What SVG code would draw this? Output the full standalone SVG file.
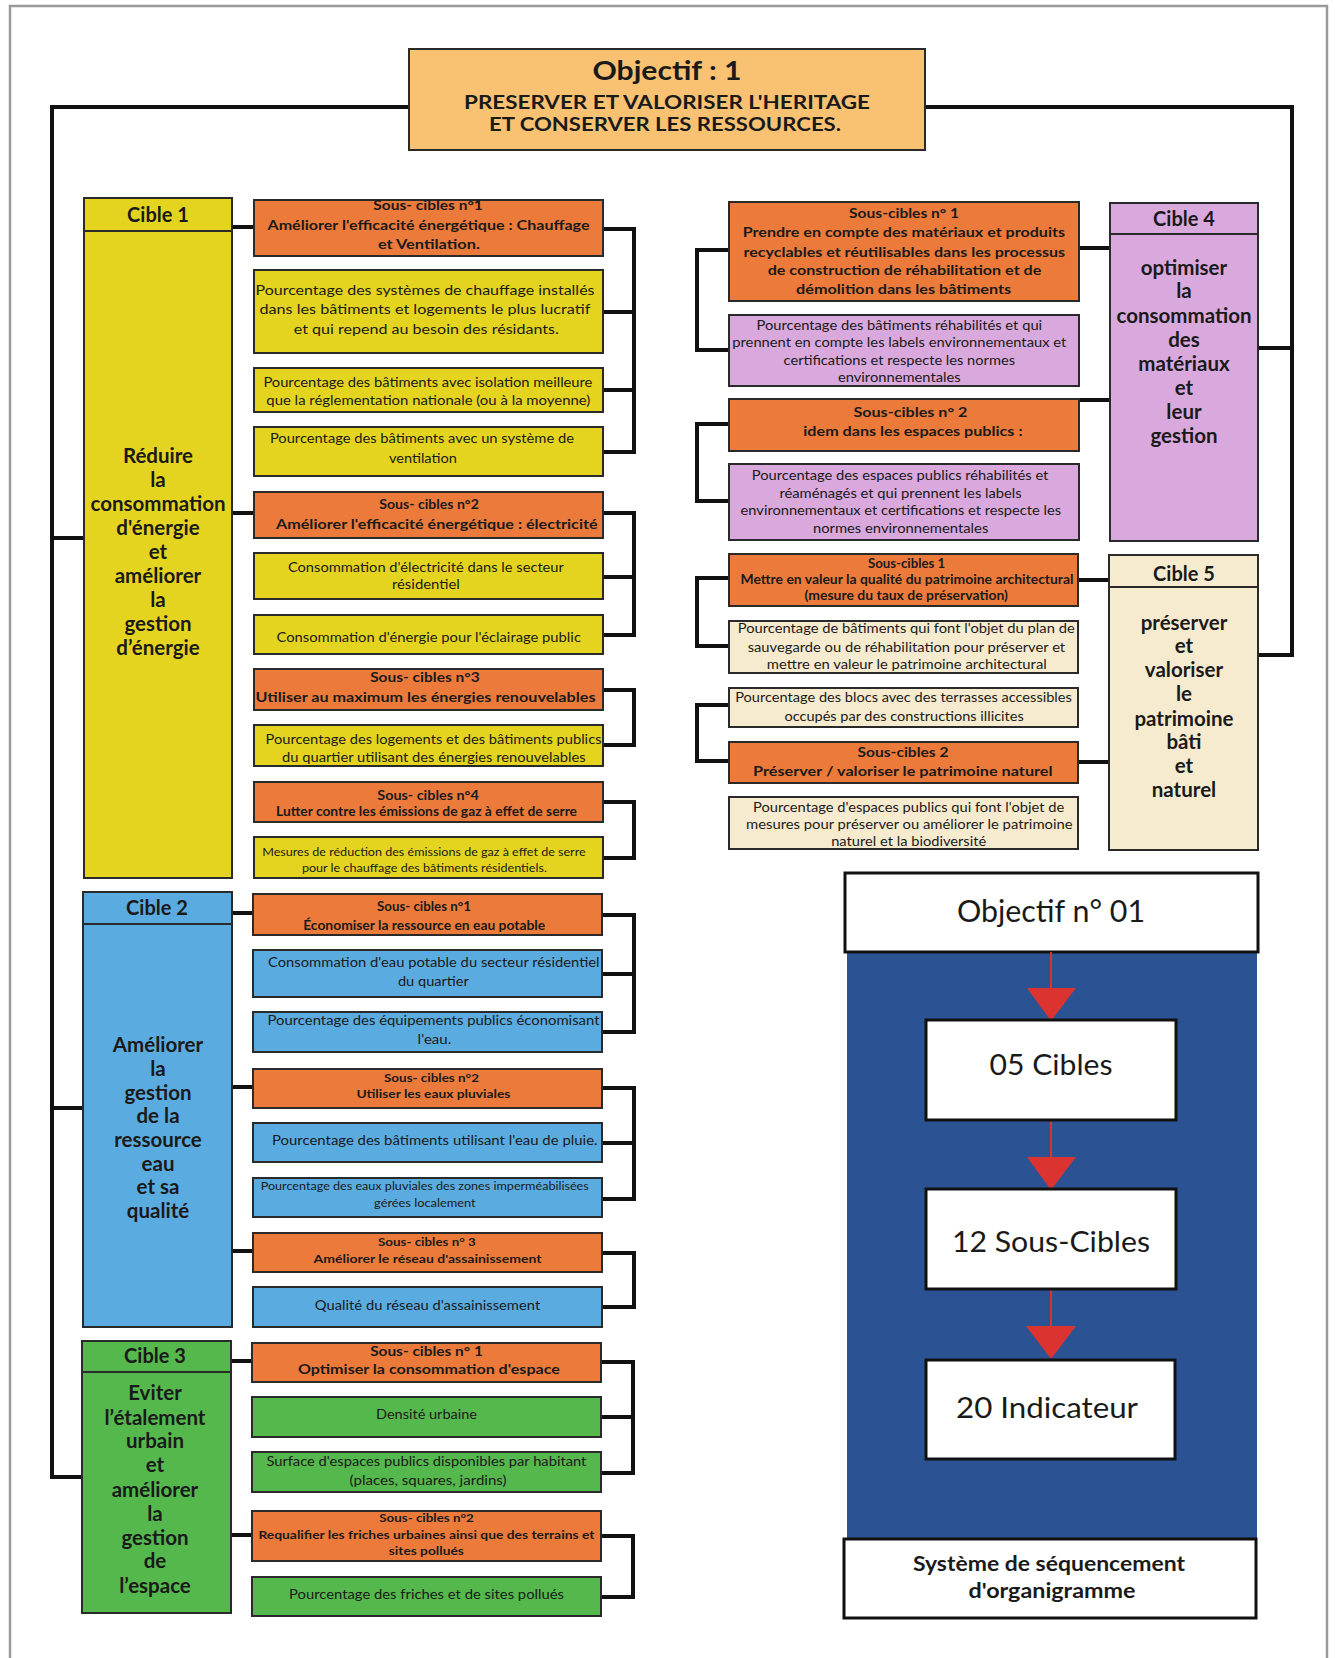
<svg xmlns="http://www.w3.org/2000/svg" width="1335" height="1658" viewBox="0 0 1335 1658">
<style>
text{font-family:Lato,"Liberation Sans",sans-serif;fill:#1a1a1a;text-anchor:middle}
.b{font-weight:bold}
.box{stroke:#2a2a2a;stroke-width:2}
.or{fill:#EC7A3A}.ye{fill:#E4D41F}.bl{fill:#5AACE0}.gr{fill:#55B84C}.pk{fill:#D9A8DC}.be{fill:#F6EBCF}.ti{fill:#F8C272}
.ct{font-size:20px;font-weight:bold}
.cb{font-size:20.5px;font-weight:bold}
.s11{font-size:11px}.s115{font-size:11.5px}.s12{font-size:12px}.s125{font-size:12.5px}.s13{font-size:13px}.s135{font-size:13.5px}.s14{font-size:14px}
.con{fill:none;stroke:#111;stroke-width:4}
.hl{stroke:#2a2a2a;stroke-width:2}
.lg{fill:#fff;stroke:#111;stroke-width:3}
.rd{fill:#DA3330}
</style>
<rect x="10" y="6" width="1317" height="1662" fill="#fff" stroke="#9a9a9a" stroke-width="2.5"/>

<g id="connectors">
<path class="con" d="M409,107 H52 V1477 H82 M52,538 H84 M52,1108 H83"/>
<path class="con" d="M925,107 H1292 V655 H1258 M1292,348 H1258"/>
<path class="con" d="M232,227 H254 M232,513 H254"/>
<path class="con" d="M603,229 H634 V452 H603 M634,312 H603 M634,390 H603"/>
<path class="con" d="M603,513 H634 V635 H603 M634,577 H603"/>
<path class="con" d="M603,690 H634 V745 H603"/>
<path class="con" d="M603,802 H634 V858 H603"/>
<path class="con" d="M232,913 H253 M232,1087 H253 M232,1251 H253"/>
<path class="con" d="M602,915 H634 V1032 H602 M634,974 H602"/>
<path class="con" d="M602,1088 H634 V1199 H602 M634,1143 H602"/>
<path class="con" d="M602,1253 H634 V1307 H602"/>
<path class="con" d="M231,1361 H252 M231,1535 H252"/>
<path class="con" d="M601,1362 H633 V1473 H601 M633,1417 H601"/>
<path class="con" d="M601,1536 H633 V1597 H601"/>
<path class="con" d="M1079,248 H1110 M1079,400 H1110"/>
<path class="con" d="M729,250 H697 V350 H729"/>
<path class="con" d="M729,424 H697 V501 H729"/>
<path class="con" d="M1078,580 H1109 M1078,762 H1109"/>
<path class="con" d="M729,578 H697 V646 H729"/>
<path class="con" d="M729,705 H697 V761 H729"/>
</g>

<g id="objectif">
<rect class="box ti" x="409" y="49" width="516" height="101"/>
<text class="b" x="667" y="80" font-size="27" textLength="149" lengthAdjust="spacingAndGlyphs">Objectif : 1</text>
<text class="b" x="667" y="109" font-size="18.5" textLength="406" lengthAdjust="spacingAndGlyphs">PRESERVER ET VALORISER L'HERITAGE</text>
<text class="b" x="665" y="130.5" font-size="18.5" textLength="352" lengthAdjust="spacingAndGlyphs">ET CONSERVER LES RESSOURCES.</text>
</g>

<!-- Cible 1 -->
<g id="cible1">
<rect class="box ye" x="84" y="198" width="148" height="680"/>
<line class="hl" x1="84" y1="231" x2="232" y2="231"/>
<text class="ct" x="158" y="222">Cible 1</text>
<text class="cb" x="158" y="462.5">Réduire</text>
<text class="cb" x="158" y="487">la</text>
<text class="cb" x="158" y="511">consommation</text>
<text class="cb" x="158" y="535">d'énergie</text>
<text class="cb" x="158" y="558.5">et</text>
<text class="cb" x="158" y="582.5">améliorer</text>
<text class="cb" x="158" y="607">la</text>
<text class="cb" x="158" y="631">gestion</text>
<text class="cb" x="158" y="655">d’énergie</text>
</g>
<g id="c1-sc1">
<rect class="box or" x="254" y="200" width="349" height="56"/>
<text class="b s13" x="428.1" y="209.5" textLength="109.5" lengthAdjust="spacingAndGlyphs">Sous- cibles n°1</text>
<text class="b s14" x="428.5" y="229.5" textLength="322" lengthAdjust="spacingAndGlyphs">Améliorer l'efficacité énergétique : Chauffage</text>
<text class="b s14" x="428.9" y="248.5" textLength="102" lengthAdjust="spacingAndGlyphs">et Ventilation.</text>
</g>
<g id="c1-i1">
<rect class="box ye" x="254" y="270" width="349" height="83"/>
<text class="s135" x="425" y="295" textLength="339" lengthAdjust="spacingAndGlyphs">Pourcentage des systèmes de chauffage installés</text>
<text class="s135" x="424.9" y="314" textLength="331" lengthAdjust="spacingAndGlyphs">dans les  bâtiments et logements le plus lucratif</text>
<text class="s135" x="426.3" y="334" textLength="265" lengthAdjust="spacingAndGlyphs">et qui repend au besoin des résidants.</text>
</g>
<g id="c1-i2">
<rect class="box ye" x="254" y="368" width="349" height="44"/>
<text class="s13" x="427.9" y="386.5" textLength="329" lengthAdjust="spacingAndGlyphs">Pourcentage des bâtiments avec isolation meilleure</text>
<text class="s13" x="428.3" y="404.5" textLength="324" lengthAdjust="spacingAndGlyphs">que la réglementation nationale (ou à la moyenne)</text>
</g>
<g id="c1-i3">
<rect class="box ye" x="254" y="427" width="349" height="49"/>
<text class="s13" x="421.9" y="443" textLength="304" lengthAdjust="spacingAndGlyphs">Pourcentage des bâtiments avec un système de</text>
<text class="s13" x="422.9" y="463" textLength="68" lengthAdjust="spacingAndGlyphs">ventilation</text>
</g>
<g id="c1-sc2">
<rect class="box or" x="254" y="492" width="349" height="46"/>
<text class="b s135" x="429.1" y="509" textLength="99.6" lengthAdjust="spacingAndGlyphs">Sous- cibles n°2</text>
<text class="b s135" x="436.8" y="528.5" textLength="321.5" lengthAdjust="spacingAndGlyphs">Améliorer l'efficacité énergétique : électricité</text>
</g>
<g id="c1-i4">
<rect class="box ye" x="254" y="553" width="349" height="46"/>
<text class="s13" x="425.9" y="571.5" textLength="276" lengthAdjust="spacingAndGlyphs">Consommation d'électricité dans le secteur</text>
<text class="s13" x="425.9" y="589" textLength="68" lengthAdjust="spacingAndGlyphs">résidentiel</text>
</g>
<g id="c1-i5">
<rect class="box ye" x="254" y="615" width="349" height="39"/>
<text class="s13" x="428.7" y="641.5" textLength="304.5" lengthAdjust="spacingAndGlyphs">Consommation d'énergie pour l'éclairage public</text>
</g>
<g id="c1-sc3">
<rect class="box or" x="254" y="669" width="349" height="41"/>
<text class="b s135" x="424.9" y="681.5" textLength="109.5" lengthAdjust="spacingAndGlyphs">Sous- cibles n°3</text>
<text class="b s135" x="425.5" y="701.5" textLength="340" lengthAdjust="spacingAndGlyphs">Utiliser au maximum les énergies renouvelables</text>
</g>
<g id="c1-i6">
<rect class="box ye" x="254" y="725" width="349" height="41"/>
<text class="s13" x="433.5" y="744" textLength="336" lengthAdjust="spacingAndGlyphs">Pourcentage des logements et des bâtiments publics</text>
<text class="s13" x="433.8" y="761.5" textLength="303.6" lengthAdjust="spacingAndGlyphs">du quartier utilisant des énergies renouvelables</text>
</g>
<g id="c1-sc4">
<rect class="box or" x="254" y="782" width="349" height="40"/>
<text class="b s125" x="428.1" y="799.5" textLength="101.6" lengthAdjust="spacingAndGlyphs">Sous- cibles n°4</text>
<text class="b s125" x="426.5" y="816" textLength="301" lengthAdjust="spacingAndGlyphs">Lutter contre les émissions de gaz à effet de serre</text>
</g>
<g id="c1-i7">
<rect class="box ye" x="254" y="837" width="349" height="41"/>
<text class="s12" x="423.9" y="856" textLength="323.4" lengthAdjust="spacingAndGlyphs">Mesures de réduction des émissions de gaz à effet de serre</text>
<text class="s12" x="424.4" y="871.5" textLength="245" lengthAdjust="spacingAndGlyphs">pour le chauffage des bâtiments résidentiels.</text>
</g>

<!-- Cible 2 -->
<g id="cible2">
<rect class="box bl" x="83" y="892" width="149" height="435"/>
<line class="hl" x1="83" y1="924" x2="232" y2="924"/>
<text class="ct" x="157" y="915">Cible 2</text>
<text class="cb" x="158" y="1051.5">Améliorer</text>
<text class="cb" x="158" y="1075.5">la</text>
<text class="cb" x="158" y="1099.5">gestion</text>
<text class="cb" x="158" y="1123">de la</text>
<text class="cb" x="158" y="1147">ressource</text>
<text class="cb" x="158" y="1170.5">eau</text>
<text class="cb" x="158" y="1194">et sa</text>
<text class="cb" x="158" y="1218">qualité</text>
</g>
<g id="c2-sc1">
<rect class="box or" x="253" y="894" width="349" height="41"/>
<text class="b s125" x="424" y="911" textLength="94" lengthAdjust="spacingAndGlyphs">Sous- cibles n°1</text>
<text class="b s125" x="424.2" y="929.5" textLength="242" lengthAdjust="spacingAndGlyphs">Économiser la ressource en eau potable</text>
</g>
<g id="c2-i1">
<rect class="box bl" x="253" y="950" width="349" height="47"/>
<text class="s13" x="433.8" y="966.5" textLength="331.5" lengthAdjust="spacingAndGlyphs">Consommation d'eau potable du secteur résidentiel</text>
<text class="s13" x="433.4" y="985.5" textLength="71" lengthAdjust="spacingAndGlyphs">du quartier</text>
</g>
<g id="c2-i2">
<rect class="box bl" x="253" y="1012" width="349" height="40"/>
<text class="s13" x="433.5" y="1024.5" textLength="332" lengthAdjust="spacingAndGlyphs">Pourcentage  des équipements publics économisant</text>
<text class="s13" x="434.4" y="1044" textLength="33.6" lengthAdjust="spacingAndGlyphs">l'eau.</text>
</g>
<g id="c2-sc2">
<rect class="box or" x="253" y="1069" width="349" height="39"/>
<text class="b s12" x="431.5" y="1081.5" textLength="95" lengthAdjust="spacingAndGlyphs">Sous- cibles n°2</text>
<text class="b s12" x="433.4" y="1097.5" textLength="154" lengthAdjust="spacingAndGlyphs">Utiliser les eaux pluviales</text>
</g>
<g id="c2-i3">
<rect class="box bl" x="253" y="1123" width="349" height="39"/>
<text class="s13" x="434.8" y="1145" textLength="325.5" lengthAdjust="spacingAndGlyphs">Pourcentage  des bâtiments utilisant l'eau de pluie.</text>
</g>
<g id="c2-i4">
<rect class="box bl" x="253" y="1178" width="349" height="39"/>
<text class="s115" x="424.7" y="1190" textLength="328" lengthAdjust="spacingAndGlyphs">Pourcentage des eaux pluviales des zones imperméabilisées</text>
<text class="s115" x="424.9" y="1206.5" textLength="101.6" lengthAdjust="spacingAndGlyphs">gérées localement</text>
</g>
<g id="c2-sc3">
<rect class="box or" x="253" y="1233" width="349" height="39"/>
<text class="b s12" x="426.9" y="1246" textLength="97.7" lengthAdjust="spacingAndGlyphs">Sous- cibles n° 3</text>
<text class="b s12" x="427.5" y="1262.5" textLength="227.8" lengthAdjust="spacingAndGlyphs">Améliorer le réseau d'assainissement</text>
</g>
<g id="c2-i5">
<rect class="box bl" x="253" y="1287" width="349" height="40"/>
<text class="s13" x="427.5" y="1310" textLength="225.4" lengthAdjust="spacingAndGlyphs">Qualité du réseau d'assainissement</text>
</g>

<!-- Cible 3 -->
<g id="cible3">
<rect class="box gr" x="82" y="1341" width="149" height="272"/>
<line class="hl" x1="82" y1="1372" x2="231" y2="1372"/>
<text class="ct" x="155" y="1363">Cible 3</text>
<text class="cb" x="155" y="1400">Eviter</text>
<text class="cb" x="155" y="1424.5">l’étalement</text>
<text class="cb" x="155" y="1448">urbain</text>
<text class="cb" x="155" y="1472">et</text>
<text class="cb" x="155" y="1496.5">améliorer</text>
<text class="cb" x="155" y="1520.5">la</text>
<text class="cb" x="155" y="1544.5">gestion</text>
<text class="cb" x="155" y="1568">de</text>
<text class="cb" x="155" y="1593">l’espace</text>
</g>
<g id="c3-sc1">
<rect class="box or" x="252" y="1343" width="349" height="39"/>
<text class="b s135" x="426.5" y="1355.5" textLength="112.7" lengthAdjust="spacingAndGlyphs">Sous- cibles n° 1</text>
<text class="b s135" x="428.9" y="1374" textLength="262" lengthAdjust="spacingAndGlyphs">Optimiser la consommation d'espace</text>
</g>
<g id="c3-i1">
<rect class="box gr" x="252" y="1397" width="349" height="40"/>
<text class="s13" x="426.5" y="1419" textLength="101" lengthAdjust="spacingAndGlyphs">Densité urbaine</text>
</g>
<g id="c3-i2">
<rect class="box gr" x="252" y="1452" width="349" height="40"/>
<text class="s13" x="426.4" y="1465.5" textLength="320" lengthAdjust="spacingAndGlyphs">Surface d'espaces publics disponibles par habitant</text>
<text class="s13" x="428.1" y="1484.5" textLength="157" lengthAdjust="spacingAndGlyphs">(places, squares, jardins)</text>
</g>
<g id="c3-sc2">
<rect class="box or" x="252" y="1511" width="349" height="50"/>
<text class="b s12" x="426.5" y="1521.5" textLength="94.5" lengthAdjust="spacingAndGlyphs">Sous- cibles n°2</text>
<text class="b s12" x="426.4" y="1538.5" textLength="336" lengthAdjust="spacingAndGlyphs">Requalifier les friches urbaines ainsi que des terrains et</text>
<text class="b s12" x="426.3" y="1554.5" textLength="75" lengthAdjust="spacingAndGlyphs">sites pollués</text>
</g>
<g id="c3-i3">
<rect class="box gr" x="252" y="1577" width="349" height="39"/>
<text class="s13" x="426.5" y="1599" textLength="275" lengthAdjust="spacingAndGlyphs">Pourcentage des  friches et de sites pollués</text>
</g>

<!-- Cible 4 -->
<g id="cible4">
<rect class="box pk" x="1110" y="203" width="148" height="338"/>
<line class="hl" x1="1110" y1="234" x2="1258" y2="234"/>
<text class="ct" x="1184" y="225.5">Cible 4</text>
<text class="cb" x="1184" y="274.5">optimiser</text>
<text class="cb" x="1184" y="298">la</text>
<text class="cb" x="1184" y="323">consommation</text>
<text class="cb" x="1184" y="347">des</text>
<text class="cb" x="1184" y="371">matériaux</text>
<text class="cb" x="1184" y="394.5">et</text>
<text class="cb" x="1184" y="419">leur</text>
<text class="cb" x="1184" y="443">gestion</text>
</g>
<g id="c4-sc1">
<rect class="box or" x="729" y="202" width="350" height="99"/>
<text class="b s14" x="904.1" y="218" textLength="110" lengthAdjust="spacingAndGlyphs">Sous-cibles n° 1</text>
<text class="b s14" x="903.9" y="237" textLength="322.4" lengthAdjust="spacingAndGlyphs">Prendre en compte des matériaux et produits</text>
<text class="b s14" x="904.3" y="256.5" textLength="321.6" lengthAdjust="spacingAndGlyphs">recyclables et réutilisables dans les processus</text>
<text class="b s14" x="904.5" y="275" textLength="273.6" lengthAdjust="spacingAndGlyphs">de construction de réhabilitation et de</text>
<text class="b s14" x="903.6" y="294" textLength="215" lengthAdjust="spacingAndGlyphs">démolition dans les bâtiments</text>
</g>
<g id="c4-i1">
<rect class="box pk" x="729" y="315" width="350" height="71"/>
<text class="s125" x="899.3" y="329.5" textLength="285.7" lengthAdjust="spacingAndGlyphs">Pourcentage des bâtiments réhabilités et qui</text>
<text class="s125" x="899.3" y="347" textLength="334" lengthAdjust="spacingAndGlyphs">prennent en compte les labels environnementaux et</text>
<text class="s125" x="899.3" y="364.5" textLength="231.4" lengthAdjust="spacingAndGlyphs">certifications et respecte les normes</text>
<text class="s125" x="899.3" y="381.5" textLength="122.8" lengthAdjust="spacingAndGlyphs">environnementales</text>
</g>
<g id="c4-sc2">
<rect class="box or" x="729" y="399" width="350" height="52"/>
<text class="b s14" x="910.4" y="416.5" textLength="114" lengthAdjust="spacingAndGlyphs">Sous-cibles  n° 2</text>
<text class="b s14" x="912.9" y="435.5" textLength="219.3" lengthAdjust="spacingAndGlyphs">idem dans les espaces publics :</text>
</g>
<g id="c4-i2">
<rect class="box pk" x="729" y="464" width="350" height="76"/>
<text class="s125" x="900.1" y="479.5" textLength="296.6" lengthAdjust="spacingAndGlyphs">Pourcentage des espaces publics réhabilités et</text>
<text class="s125" x="900.6" y="497.5" textLength="242.3" lengthAdjust="spacingAndGlyphs">réaménagés et qui prennent les labels</text>
<text class="s125" x="900.8" y="515" textLength="320.4" lengthAdjust="spacingAndGlyphs">environnementaux et certifications et respecte les</text>
<text class="s125" x="900.6" y="532.5" textLength="175.4" lengthAdjust="spacingAndGlyphs">normes environnementales</text>
</g>

<!-- Cible 5 -->
<g id="cible5">
<rect class="box be" x="1109" y="555" width="149" height="295"/>
<line class="hl" x1="1109" y1="587" x2="1258" y2="587"/>
<text class="ct" x="1184" y="580.5">Cible 5</text>
<text class="cb" x="1184" y="630">préserver</text>
<text class="cb" x="1184" y="653">et</text>
<text class="cb" x="1184" y="677">valoriser</text>
<text class="cb" x="1184" y="701">le</text>
<text class="cb" x="1184" y="725.5">patrimoine</text>
<text class="cb" x="1184" y="749">bâti</text>
<text class="cb" x="1184" y="773">et</text>
<text class="cb" x="1184" y="797">naturel</text>
</g>
<g id="c5-sc1">
<rect class="box or" x="729" y="554" width="349" height="52"/>
<text class="b s125" x="906.6" y="567.5" textLength="77.3" lengthAdjust="spacingAndGlyphs">Sous-cibles 1</text>
<text class="b s125" x="907" y="583.5" textLength="333" lengthAdjust="spacingAndGlyphs">Mettre en valeur la qualité du patrimoine architectural</text>
<text class="b s125" x="906.2" y="599.5" textLength="203.4" lengthAdjust="spacingAndGlyphs">(mesure du taux de préservation)</text>
</g>
<g id="c5-i1">
<rect class="box be" x="729" y="621" width="349" height="52"/>
<text class="s13" x="906.2" y="633" textLength="337" lengthAdjust="spacingAndGlyphs">Pourcentage de bâtiments qui font l'objet du plan de</text>
<text class="s13" x="906.4" y="651.5" textLength="317.5" lengthAdjust="spacingAndGlyphs">sauvegarde ou de réhabilitation pour préserver et</text>
<text class="s13" x="906.8" y="668.5" textLength="279.9" lengthAdjust="spacingAndGlyphs">mettre en valeur le patrimoine architectural</text>
</g>
<g id="c5-i2">
<rect class="box be" x="729" y="688" width="349" height="39"/>
<text class="s13" x="903.5" y="701.5" textLength="336.7" lengthAdjust="spacingAndGlyphs">Pourcentage des blocs avec des terrasses accessibles</text>
<text class="s13" x="904.1" y="720.5" textLength="239.3" lengthAdjust="spacingAndGlyphs">occupés par des constructions illicites</text>
</g>
<g id="c5-sc2">
<rect class="box or" x="729" y="742" width="349" height="41"/>
<text class="b s135" x="903" y="756.5" textLength="91" lengthAdjust="spacingAndGlyphs">Sous-cibles 2</text>
<text class="b s135" x="902.8" y="776" textLength="299.5" lengthAdjust="spacingAndGlyphs">Préserver / valoriser le patrimoine naturel</text>
</g>
<g id="c5-i3">
<rect class="box be" x="729" y="797" width="349" height="52"/>
<text class="s13" x="908.6" y="811.5" textLength="311.2" lengthAdjust="spacingAndGlyphs">Pourcentage d'espaces publics qui font l'objet de</text>
<text class="s13" x="909.3" y="828.5" textLength="326.6" lengthAdjust="spacingAndGlyphs">mesures pour préserver ou améliorer le patrimoine</text>
<text class="s13" x="908.7" y="846" textLength="155" lengthAdjust="spacingAndGlyphs">naturel et la biodiversité</text>
</g>

<!-- Legend -->
<g id="legend">
<rect x="847" y="951" width="410" height="588" fill="#2B5394"/>
<g id="lg-obj">
<rect class="lg" x="845" y="873" width="413" height="79"/>
<text x="1051" y="922" font-size="30" textLength="188" lengthAdjust="spacingAndGlyphs">Objectif n° 01</text>
</g>
<g id="lg-arrows">
<line x1="1051" y1="952" x2="1051" y2="990" stroke="#DA3330" stroke-width="2"/>
<polygon class="rd" points="1027,988 1076,988 1051,1021"/>
<line x1="1051" y1="1120" x2="1051" y2="1158" stroke="#DA3330" stroke-width="2"/>
<polygon class="rd" points="1027,1157 1076,1157 1051,1190"/>
<line x1="1051" y1="1289" x2="1051" y2="1327" stroke="#DA3330" stroke-width="2"/>
<polygon class="rd" points="1026,1326 1076,1326 1051,1359"/>
</g>
<g id="lg-cibles">
<rect class="lg" x="926" y="1020" width="250" height="100"/>
<text x="1051" y="1075" font-size="28" textLength="123" lengthAdjust="spacingAndGlyphs">05 Cibles</text>
</g>
<g id="lg-sous">
<rect class="lg" x="926" y="1189" width="250" height="100"/>
<text x="1051" y="1251.5" font-size="28" textLength="198" lengthAdjust="spacingAndGlyphs">12 Sous-Cibles</text>
</g>
<g id="lg-ind">
<rect class="lg" x="926" y="1360" width="249" height="99"/>
<text x="1047" y="1418" font-size="28" textLength="182" lengthAdjust="spacingAndGlyphs">20 Indicateur</text>
</g>
<g id="lg-sys">
<rect class="lg" x="844" y="1539" width="412" height="79"/>
<text class="b" x="1049" y="1570.5" font-size="21" textLength="272" lengthAdjust="spacingAndGlyphs">Système de séquencement</text>
<text class="b" x="1052" y="1598" font-size="21" textLength="167" lengthAdjust="spacingAndGlyphs">d'organigramme</text>
</g>
</g>
</svg>
